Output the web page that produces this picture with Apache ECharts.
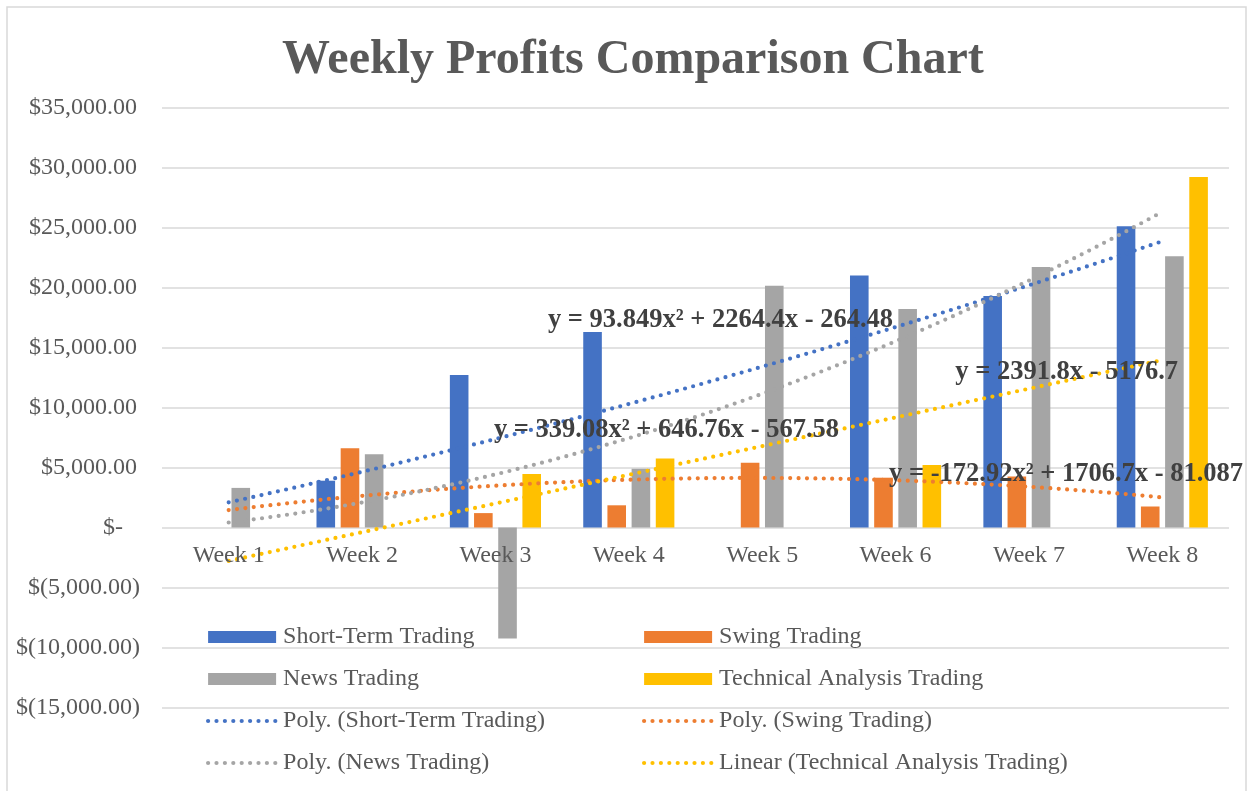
<!DOCTYPE html>
<html>
<head>
<meta charset="utf-8">
<script src="https://cdn.jsdelivr.net/npm/echarts@6/dist/echarts.min.js"></script>
<style>
  html, body { margin: 0; padding: 0; background: #ffffff; }
  #chart { width: 1253px; height: 791px; }
</style>
</head>
<body>
<div id="chart"></div>
<script>
// Categories
const weeks = ['Week 1', 'Week 2', 'Week 3', 'Week 4', 'Week 5', 'Week 6', 'Week 7', 'Week 8'];

// Weekly profit per strategy (USD)
const shortTerm = [0, 3900, 12700, 16300, 0, 21000, 19300, 25100];
const swing     = [0, 6600, 1200, 1850, 5400, 4150, 4250, 1750];
const news      = [3300, 6100, -9250, 4900, 20150, 18200, 21700, 22600];
const technical = [0, 0, 4450, 5750, 0, 5200, 0, 29200];

// Trendline coefficients [x², x, constant]
const shortTermFit = [93.849, 2264.4, -264.48];
const swingFit     = [-172.92, 1706.7, -81.087];
const newsFit      = [339.08, 646.76, -567.58];
const technicalFit = [0, 2391.8, -5176.7];

// Value axis range
const yMin = -15000;
const yMax = 35000;
const yStep = 5000;

const FONT = '"Liberation Serif", "Times New Roman", serif';
const TEXT = '#595959';
const COLORS = { blue: '#4472C4', orange: '#ED7D31', gray: '#A5A5A5', gold: '#FFC000' };

// Accounting-style currency: $1,234.00 / $(1,234.00) / $-
function money(v) {
  if (v === 0) return '$-{zero| }';
  const s = Math.abs(v).toLocaleString('en-US', { minimumFractionDigits: 2, maximumFractionDigits: 2 });
  return v < 0 ? '$(' + s + ')' : '$' + s + '{pos| }';
}

// Points along a fitted curve, from week 1 to week 8
function trend(c) {
  const pts = [];
  for (let x = 1; x <= 8.0001; x += 0.125) {
    pts.push([x, c[0] * x * x + c[1] * x + c[2]]);
  }
  return pts;
}

function term(v, suffix, first) {
  if (first) return v + suffix;
  return (v < 0 ? ' - ' : ' + ') + Math.abs(v) + suffix;
}
function equation(c) {
  if (c[0] === 0) return 'y = ' + term(c[1], 'x', true) + term(c[2], '', false);
  return 'y = ' + term(c[0], 'x²', true) + term(c[1], 'x', false) + term(c[2], '', false);
}

const DOTS = { width: 4.2, type: [0, 8.4], cap: 'round' };
const dotted = (color) => Object.assign({ color: color }, DOTS);

const barSeries = (name, data, color) => ({
  name: name, type: 'bar', data: data, xAxisIndex: 0,
  barWidth: 18.6, barGap: '30%',
  itemStyle: { color: color }
});
const lineSeries = (name, coef, color) => ({
  name: name, type: 'line', data: trend(coef), xAxisIndex: 1,
  symbol: 'none', smooth: false, z: 5,
  lineStyle: dotted(color), itemStyle: { color: color }
});

const legendText = { fontFamily: FONT, fontSize: 24, color: TEXT, lineHeight: 24, padding: [0, 0, 0, 2] };
const legendBase = {
  orient: 'vertical', top: 625, padding: 0, itemWidth: 68, itemHeight: 12, itemGap: 18,
  textStyle: legendText, selectedMode: false
};
const lineItem = (name) => ({ name: name, itemStyle: { opacity: 0 }, lineStyle: Object.assign({}, DOTS) });

const eqStyle = (text, x, y) => ({
  type: 'text', x: x, y: y, z: 100, silent: true,
  style: {
    text: text, fontFamily: FONT, fontSize: 26.5, fontWeight: 'bold', fill: '#404040',
    align: 'right', verticalAlign: 'middle'
  }
});

const chart = echarts.init(document.getElementById('chart'), null, { renderer: 'canvas' });
chart.setOption({
  animation: false,
  backgroundColor: '#ffffff',
  title: {
    text: 'Weekly Profits Comparison Chart',
    left: 277, top: 32,
    textStyle: { fontFamily: FONT, fontSize: 48, fontWeight: 'bold', color: TEXT }
  },
  grid: { left: 162, right: 24, top: 107.5, bottom: 83.5, containLabel: false },
  xAxis: [
    {
      type: 'category', data: weeks, position: 'bottom', offset: -180, z: 10,
      axisLine: { show: false, onZero: false },
      axisTick: { show: false },
      axisLabel: { fontFamily: FONT, fontSize: 24, color: TEXT, margin: 16 }
    },
    { type: 'value', min: 0.5, max: 8.5, show: false }
  ],
  yAxis: {
    type: 'value', min: yMin, max: yMax, interval: yStep,
    axisLine: { show: false }, axisTick: { show: false },
    splitLine: { lineStyle: { color: '#d9d9d9', width: 1.5 } },
    axisLabel: {
      fontFamily: FONT, fontSize: 24, color: TEXT, margin: 22, formatter: money,
      rich: { pos: { width: 3 }, zero: { width: 17 } }
    }
  },
  legend: [
    Object.assign({}, legendBase, {
      left: 206,
      data: [
        { name: 'Short-Term Trading', icon: 'rect' },
        { name: 'News Trading', icon: 'rect' },
        lineItem('Poly. (Short-Term Trading)'),
        lineItem('Poly. (News Trading)')
      ]
    }),
    Object.assign({}, legendBase, {
      left: 642,
      data: [
        { name: 'Swing Trading', icon: 'rect' },
        { name: 'Technical Analysis Trading', icon: 'rect' },
        lineItem('Poly. (Swing Trading)'),
        lineItem('Linear (Technical Analysis Trading)')
      ]
    })
  ],
  series: [
    barSeries('Short-Term Trading', shortTerm, COLORS.blue),
    barSeries('Swing Trading', swing, COLORS.orange),
    barSeries('News Trading', news, COLORS.gray),
    barSeries('Technical Analysis Trading', technical, COLORS.gold),
    lineSeries('Poly. (Short-Term Trading)', shortTermFit, COLORS.blue),
    lineSeries('Poly. (Swing Trading)', swingFit, COLORS.orange),
    lineSeries('Poly. (News Trading)', newsFit, COLORS.gray),
    lineSeries('Linear (Technical Analysis Trading)', technicalFit, COLORS.gold)
  ],
  graphic: [
    {
      type: 'rect', silent: true, z: -10,
      shape: { x: 7, y: 7, width: 1239, height: 800 },
      style: { fill: 'none', stroke: '#d9d9d9', lineWidth: 1.5 }
    },
    eqStyle(equation(shortTermFit), 893, 320),
    eqStyle(equation(newsFit), 839, 430),
    eqStyle(equation(technicalFit), 1178, 372),
    eqStyle(equation(swingFit), 1243, 474)
  ]
});
</script>
</body>
</html>
